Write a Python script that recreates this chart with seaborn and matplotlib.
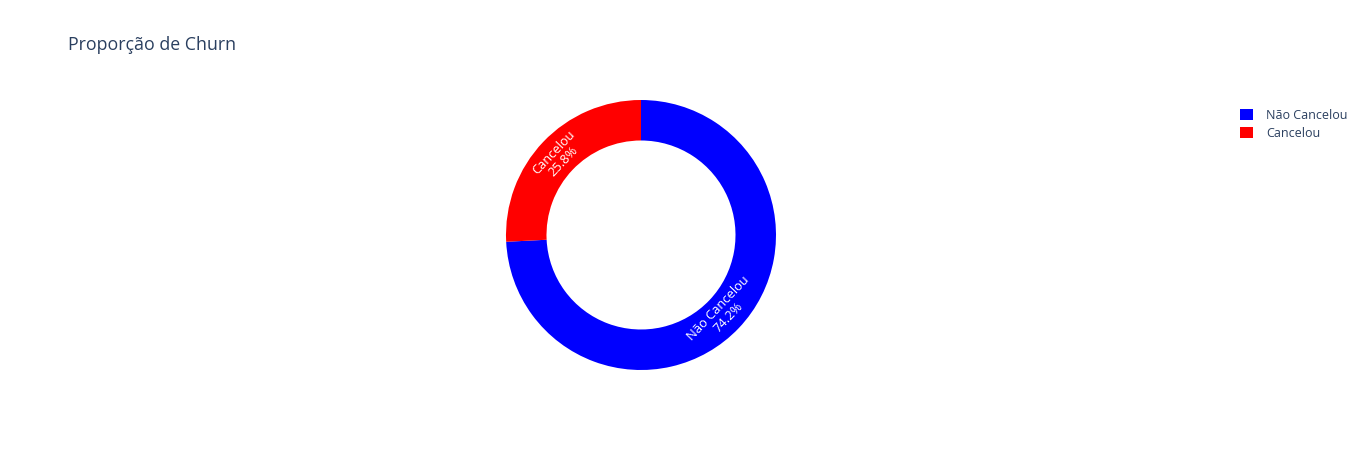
import numpy as np
import matplotlib
matplotlib.use("Agg")
import matplotlib.pyplot as plt
import seaborn as sns
from matplotlib.patches import Patch

labels = ["Não Cancelou", "Cancelou"]
values = [74.2, 25.8]
colors = ["#0000ff", "#ff0000"]
title = "Proporção de Churn"

sns.set_theme(style="white")
plt.rcParams["font.family"] = ["Open Sans", "DejaVu Sans"]

W, H = 1364, 450
fig = plt.figure(figsize=(W / 100, H / 100), dpi=100)
fig.patch.set_facecolor("white")

cx, cy, R = 641, 235, 135
ax = fig.add_axes([(cx - R) / W, (H - cy - R) / H, 2 * R / W, 2 * R / H])
ax.set_facecolor("none")

pal = sns.color_palette(colors)
wedges, texts, autotexts = ax.pie(
    values, colors=pal, startangle=90, counterclock=False, radius=1.0,
    wedgeprops=dict(width=0.3, linewidth=0),
    autopct=lambda p: "", pctdistance=0.84,
)
for w, t, lab, v in zip(wedges, autotexts, labels, values):
    mid = (w.theta1 + w.theta2) / 2.0
    rot = mid - 90
    while rot > 90:
        rot -= 180
    while rot < -90:
        rot += 180
    pct = 100 * v / sum(values)
    t.set_text(f"{lab}\n{pct:.1f}%")
    t.set_rotation(rot)
    t.set_rotation_mode("anchor")
    t.set_ha("center")
    t.set_va("center")
    t.set_color("white")
    t.set_fontsize(9.3)
    t.set_linespacing(1.0)

ax.set_xlim(-1, 1)
ax.set_ylim(-1, 1)
ax.set_aspect("equal")
ax.axis("off")

fig.text(68 / W, 1 - 45 / H, title, fontsize=12.75, color="#2a3f5f",
         ha="left", va="center")

handles = [Patch(facecolor=c, edgecolor="none", label=l) for c, l in zip(pal, labels)]
leg = fig.legend(handles=handles, loc="upper left",
                 bbox_to_anchor=(1235 / W, 1 - 104 / H), frameon=False,
                 fontsize=9, handlelength=1.0, handleheight=1.0,
                 handletextpad=1.1, labelspacing=0.4, borderaxespad=0)
for t in leg.get_texts():
    t.set_color("#2a3f5f")

fig.savefig("out.png", dpi=100, facecolor="white")
